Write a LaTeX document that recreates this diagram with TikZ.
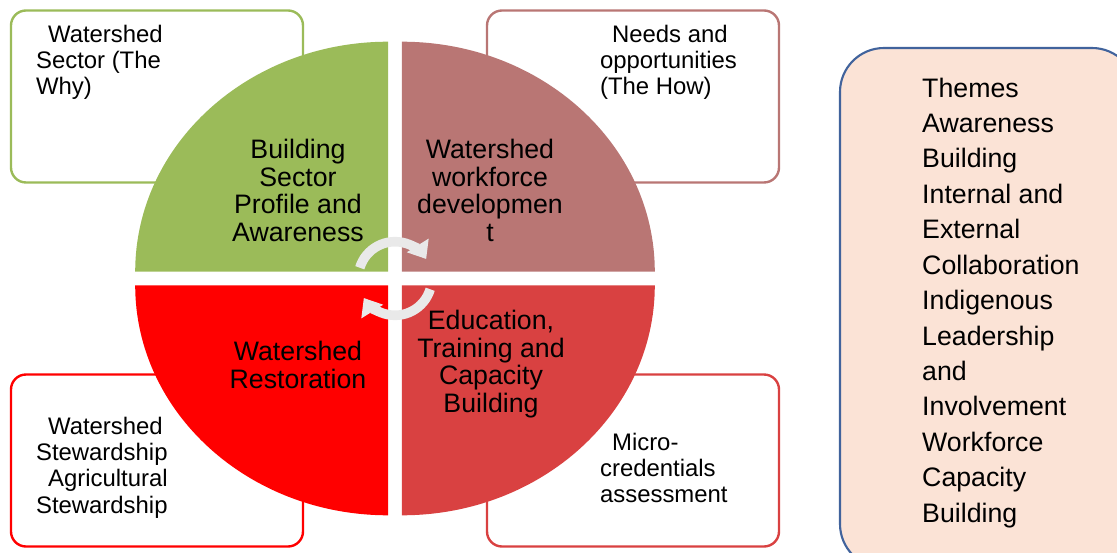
\documentclass[tikz,border=0pt]{standalone}
\usepackage{fontspec}
\setmainfont{Liberation Sans}
\usetikzlibrary{positioning, arrows.meta}

\definecolor{sectorgreen}{HTML}{9BBB59}
\definecolor{sectorrose}{HTML}{B97674}
\definecolor{sectorred}{HTML}{FF0000}
\definecolor{sectorbrick}{HTML}{D94141}
\definecolor{panelfill}{HTML}{FBE3D6}
\definecolor{panelblue}{HTML}{41639C}

\begin{document}
\begin{tikzpicture}[
    % Styles
    side_box/.style={
        draw,
        rounded corners=0.375cm,
        fill=white,
        line width=1.7pt,
        minimum width=7.3cm,
        minimum height=4.3cm,
        inner sep=0pt
    },
    box_text/.style={align=left, inner sep=0pt, font=\fontsize{17}{18.8}\selectfont},
    quad_text/.style={align=center, inner sep=0pt, font=\fontsize{19}{19.6}\selectfont},
    theme_panel/.style={
        draw=panelblue,
        fill=panelfill,
        line width=1.5pt,
        rounded corners=1.1cm,
        minimum width=7.4cm,
        minimum height=13cm,
        inner sep=0pt
    },
    theme_text/.style={align=left, inner sep=0pt, font=\fontsize{19}{25.2}\selectfont},
    cycle_arrow/.style={-{Triangle[width=0.62cm, length=0.4cm]}, line width=0.24cm, draw=gray!17}
]

    \useasboundingbox (-9.875,-6.8375) rectangle (18.05,6.9625);
    \clip (-9.875,-6.8375) rectangle (18.05,6.9625);

    % --- CORNER BOXES ---
    \node[side_box, draw=sectorgreen] (box_why) at (-5.95, 4.55) {};
    \node[box_text, below right=0.38cm and 0.65cm of box_why.north west] (txt_why)
        {\hspace{0.3cm}Watershed\\Sector (The\\Why)};

    \node[side_box, draw=sectorrose] (box_how) at (5.95, 4.55) {};
    \node[box_text, below right=0.38cm and 2.85cm of box_how.north west] (txt_how)
        {\hspace{0.3cm}Needs and\\opportunities\\(The How)};

    \node[side_box, draw=sectorred] (box_steward) at (-5.95, -4.55) {};
    \node[box_text, below right=1.08cm and 0.65cm of box_steward.north west] (txt_steward)
        {\hspace{0.3cm}Watershed\\Stewardship\\\hspace{0.3cm}Agricultural\\Stewardship};

    \node[side_box, draw=sectorbrick] (box_micro) at (5.95, -4.55) {};
    \node[box_text, below right=1.48cm and 2.85cm of box_micro.north west] (txt_micro)
        {\hspace{0.3cm}Micro-\\credentials\\assessment};

    % --- FOUR SECTORS ---
    \fill[sectorgreen] (-0.17,0.17) -- ++(-6.325,0)
        arc[start angle=180, end angle=90, x radius=6.325cm, y radius=5.75cm] -- cycle;
    \fill[sectorrose] (0.17,0.17) -- ++(0,5.75)
        arc[start angle=90, end angle=0, x radius=6.325cm, y radius=5.75cm] -- cycle;
    \fill[sectorred] (-0.17,-0.17) -- ++(-6.325,0)
        arc[start angle=180, end angle=270, x radius=6.325cm, y radius=5.75cm] -- cycle;
    \fill[sectorbrick] (0.17,-0.17) -- ++(6.325,0)
        arc[start angle=0, end angle=-90, x radius=6.325cm, y radius=5.75cm] -- cycle;

    \node[quad_text] (q_profile) at (-2.425, 2.2) {Building\\Sector\\Profile and\\Awareness};
    \node[quad_text] (q_workforce) at (2.375, 2.2) {Watershed\\workforce\\developmen\\t};
    \node[quad_text] (q_restore) at (-2.425, -2.16) {Watershed\\Restoration};
    \node[quad_text] (q_training) at (2.4, -2.14) {Education,\\Training and\\Capacity\\Building};

    % --- CYCLE ARROWS ---
    \draw[cycle_arrow] (163:0.92) arc[start angle=163, end angle=32, radius=0.92cm];
    \draw[cycle_arrow] (-17:0.92) arc[start angle=-17, end angle=-148, radius=0.92cm];

    % --- THEMES PANEL ---
    \node[theme_panel] (panel) at (14.825, -0.7375) {};
    \node[theme_text, below right=0.7625cm and 2.075cm of panel.north west] (themes)
        {Themes\\Awareness\\Building\\Internal and\\External\\Collaboration\\Indigenous\\Leadership\\and\\Involvement\\Workforce\\Capacity\\Building};

\end{tikzpicture}
\end{document}
